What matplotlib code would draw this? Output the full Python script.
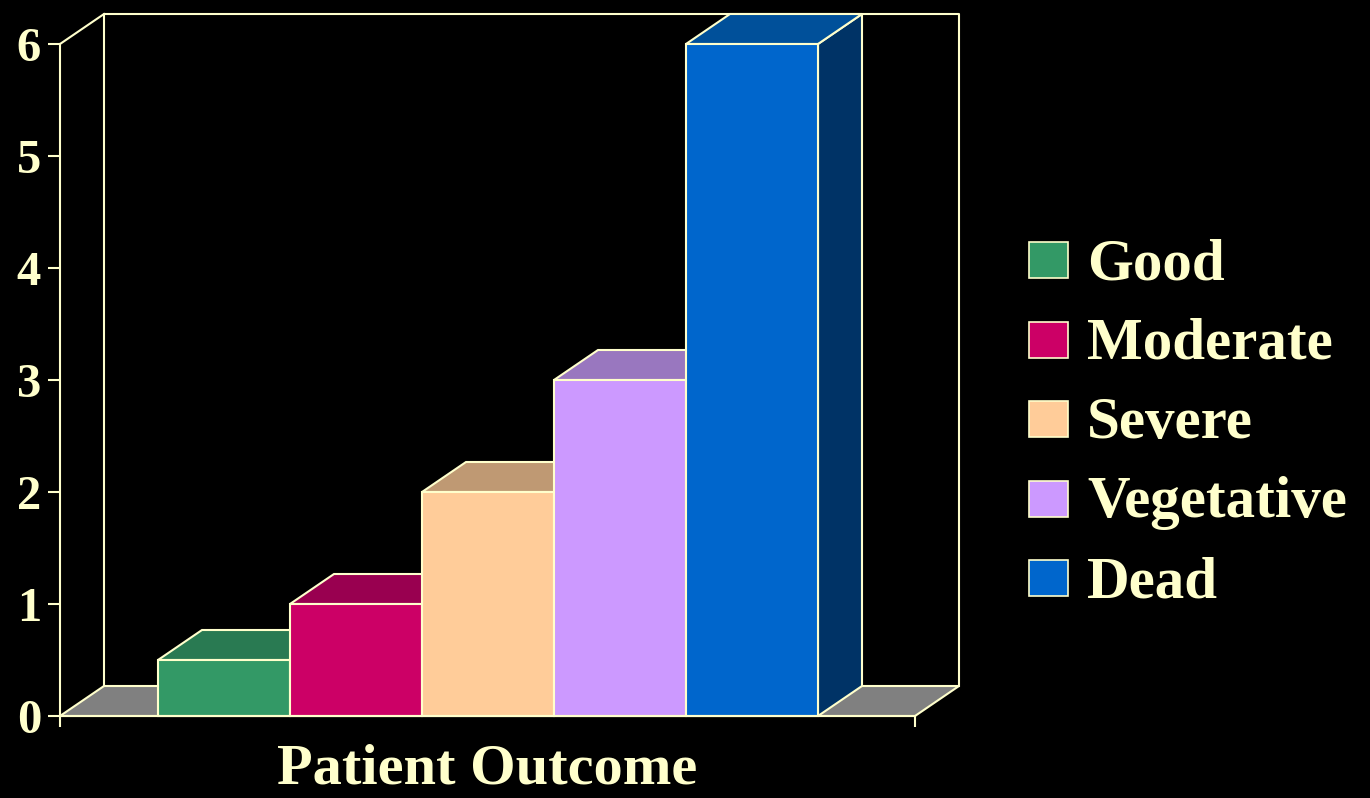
import matplotlib
matplotlib.use("Agg")
import matplotlib.pyplot as plt
from matplotlib.patches import Polygon, Rectangle

categories = ["Good", "Moderate", "Severe", "Vegetative", "Dead"]
values = [0.5, 1, 2, 3, 6]
front_colors = ["#339966", "#CC0066", "#FFCC99", "#CC99FF", "#0066CC"]
top_colors = ["#297A52", "#990050", "#BF9973", "#9977BF", "#00509A"]
side_colors = ["#1F5C3D", "#660033", "#997A5C", "#7A5C99", "#003366"]
yticks = [0, 1, 2, 3, 4, 5, 6]
xlabel = "Patient Outcome"

W, H = 1370, 798
CREAM = "#FFFFCC"
LW = 1.5
FONT = "Liberation Serif"

fig = plt.figure(figsize=(W / 100, H / 100), dpi=100, facecolor="black")
ax = fig.add_axes([60 / W, (H - 716) / H, (915 - 60) / W, (716 - 44) / H])
ax.set_facecolor("none")

# geometry in data units: bar i spans [i, i+1]
x0, x1 = (60 - 158) / 132, (915 - 158) / 132
ymax = 6
dx, dy = 44 / 132, 30 / 112
ax.set_xlim(x0, x1)
ax.set_ylim(0, ymax)

# floor
ax.add_patch(Polygon([(x0, 0), (x0 + dx, dy), (x1 + dx, dy), (x1, 0)], closed=True,
                     facecolor="#808080", edgecolor=CREAM, lw=LW, clip_on=False, zorder=1))
# back walls
ax.plot([x0 + dx, x0 + dx, x1 + dx, x1 + dx], [dy, ymax + dy, ymax + dy, dy],
        color=CREAM, lw=LW, clip_on=False, zorder=1)
ax.plot([x0, x0 + dx], [ymax, ymax + dy], color=CREAM, lw=LW, clip_on=False, zorder=1)

# bars
for i, (v, fc, tc, sc) in enumerate(zip(values, front_colors, top_colors, side_colors)):
    z = 2 + i
    l, r = i, i + 1
    ax.add_patch(Polygon([(r, 0), (r + dx, dy), (r + dx, v + dy), (r, v)], closed=True,
                         facecolor=sc, edgecolor=CREAM, lw=LW, clip_on=False, zorder=z))
    ax.add_patch(Polygon([(l, v), (l + dx, v + dy), (r + dx, v + dy), (r, v)], closed=True,
                         facecolor=tc, edgecolor=CREAM, lw=LW, clip_on=False, zorder=z))
    ax.bar(l, v, width=1, align="edge", color=fc, edgecolor=CREAM, lw=LW,
           clip_on=False, zorder=z + 0.5)

# axes styling
for s in ["top", "right"]:
    ax.spines[s].set_visible(False)
for s in ["left", "bottom"]:
    ax.spines[s].set_color(CREAM)
    ax.spines[s].set_linewidth(LW)
    ax.spines[s].set_zorder(20)
ax.set_yticks(yticks)
ax.set_yticklabels([str(t) for t in yticks])
ax.set_xticks([x0, x1])
ax.set_xticklabels([])
ax.tick_params(axis="y", colors=CREAM, length=12 * 0.72, width=LW, direction="out",
               pad=5, labelsize=35)
ax.tick_params(axis="x", colors=CREAM, length=11 * 0.72, width=LW, direction="out")
for lab in ax.get_yticklabels():
    lab.set_fontfamily(FONT)
    lab.set_fontweight("bold")

fig.text((60 + 915) / 2 / W, 1 - 783 / H, xlabel, ha="center", va="baseline",
         fontsize=42, fontweight="bold", fontfamily=FONT, color=CREAM)

# legend
leg_base0, leg_step = 279, 79.5
for i, (name, fc) in enumerate(zip(categories, front_colors)):
    base = leg_base0 + i * leg_step
    fig.add_artist(Rectangle((1029 / W, 1 - (base - 1) / H), 39 / W, 36 / H,
                             transform=fig.transFigure, facecolor=fc, edgecolor=CREAM, lw=1.2))
    fig.text(1087 / W, 1 - base / H, name, ha="left", va="baseline",
             fontsize=42.5, fontweight="bold", fontfamily=FONT, color=CREAM)

fig.savefig("out.png", dpi=100, facecolor="black")
